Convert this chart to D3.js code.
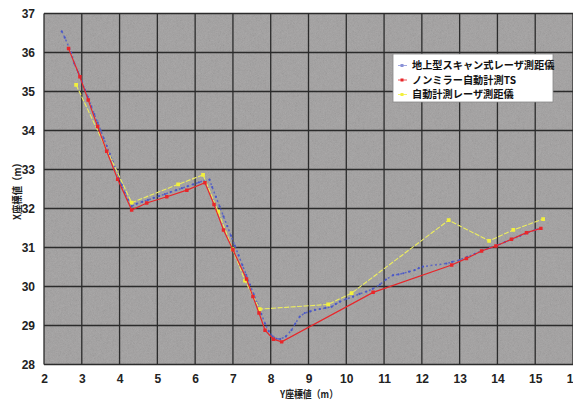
<!DOCTYPE html>
<html>
<head>
<meta charset="utf-8">
<script src="https://cdn.jsdelivr.net/npm/d3@7"></script>
<style>
  body { margin: 0; background: #fff; }
  svg { display: block; }
  .tick text { font-family: "Liberation Sans Narrow", "Liberation Sans", Arial, sans-serif; font-weight: bold; font-size: 12px; fill: #222; }
</style>
</head>
<body>
<svg id="chart" width="573" height="402"></svg>
<script>
// Axis ticks.
var X_TICKS = [2, 3, 4, 5, 6, 7, 8, 9, 10, 11, 12, 13, 14, 15, 16];
var Y_TICKS = [28, 29, 30, 31, 32, 33, 34, 35, 36, 37];

var SERIES_NAMES = ['地上型スキャン式レーザ測距儀', 'ノンミラー自動計測TS', '自動計測レーザ測距儀'];

// Scanner points (dense dots), [Y座標, X座標].
var scanPoints = [
  [2.47, 36.54], [2.55, 36.38], [2.72, 36.00], [2.80, 35.72], [2.90, 35.50],
  [3.00, 35.26], [3.08, 35.05], [3.16, 34.86], [3.25, 34.62], [3.33, 34.42],
  [3.42, 34.20], [3.50, 34.00], [3.58, 33.80], [3.66, 33.60], [3.74, 33.40],
  [3.82, 33.20], [3.90, 33.00], [3.98, 32.80], [4.06, 32.60], [4.14, 32.40],
  [4.22, 32.22], [4.32, 32.06], [4.45, 32.12], [4.60, 32.17], [4.75, 32.22],
  [4.90, 32.27], [5.05, 32.32], [5.20, 32.37], [5.35, 32.42], [5.50, 32.47],
  [5.65, 32.52], [5.80, 32.57], [5.95, 32.62], [6.10, 32.67], [6.25, 32.72],
  [6.38, 32.74], [6.45, 32.55], [6.55, 32.30], [6.65, 32.05], [6.75, 31.80],
  [6.85, 31.55], [6.95, 31.30], [7.05, 31.05], [7.15, 30.80], [7.25, 30.55],
  [7.35, 30.30], [7.45, 30.05], [7.55, 29.80], [7.65, 29.55], [7.75, 29.30],
  [7.85, 29.05], [7.95, 28.85], [8.05, 28.72], [8.15, 28.66], [8.25, 28.65],
  [8.40, 28.72], [8.55, 28.88], [8.65, 29.05], [8.77, 29.23], [8.90, 29.32],
  [9.04, 29.36], [9.17, 29.40], [9.30, 29.42], [9.45, 29.45], [9.61, 29.48],
  [9.72, 29.55], [9.83, 29.61], [10.00, 29.68], [10.18, 29.74], [10.35, 29.81],
  [10.53, 29.87], [10.70, 29.94], [10.89, 30.05], [11.05, 30.18], [11.24, 30.29],
  [11.38, 30.31], [11.51, 30.34], [11.66, 30.38], [11.81, 30.42], [11.92, 30.47],
  [12.03, 30.51], [12.65, 30.59], [12.80, 30.63], [13.00, 30.68], [13.20, 30.76],
  [13.40, 30.84], [13.60, 30.92], [13.80, 30.99], [14.00, 31.06], [14.20, 31.14],
  [14.40, 31.22], [14.60, 31.30], [14.80, 31.38], [15.00, 31.45], [15.15, 31.50]
];

// Non-mirror TS points.
var tsPoints = [
  [2.65, 36.10], [2.95, 35.38], [3.17, 34.78], [3.42, 34.10], [3.66, 33.47],
  [3.95, 32.75], [4.32, 31.96], [4.72, 32.14], [5.25, 32.30], [5.78, 32.47],
  [6.26, 32.66], [6.50, 32.10], [6.75, 31.45], [7.00, 30.94], [7.36, 30.19],
  [7.53, 29.74], [7.69, 29.32], [7.85, 28.88], [8.07, 28.65], [8.29, 28.58],
  [10.71, 29.85], [12.79, 30.55], [13.18, 30.72], [13.58, 30.91], [13.96, 31.04],
  [14.37, 31.21], [14.77, 31.38], [15.15, 31.49]
];

// Automatic laser range finder points.
var laserPoints = [
  [2.85, 35.17], [4.32, 32.15], [5.55, 32.62], [6.21, 32.86], [6.61, 31.92],
  [6.99, 30.96], [7.32, 30.15], [7.71, 29.42], [9.52, 29.54], [10.14, 29.83],
  [12.71, 31.70], [13.78, 31.17], [14.42, 31.45], [15.21, 31.73]
];

var BLUE = '#4a58c8';
var RED = '#e8262a';
var YELLOW = '#eded5e';

var svg = d3.select('#chart');
var margin = {left: 44, right: 0, top: 13.5, bottom: 37.5};
var width = 573 - margin.left - margin.right;
var height = 402 - margin.top - margin.bottom;

var x = d3.scaleLinear().domain([2, 16]).range([margin.left, margin.left + width]);
var y = d3.scaleLinear().domain([28, 37]).range([margin.top + height, margin.top]);

// Grainy gray background like the scanned original.
var defs = svg.append('defs');
var noise = defs.append('filter').attr('id', 'grain').attr('x', 0).attr('y', 0)
  .attr('width', '100%').attr('height', '100%');
noise.append('feTurbulence').attr('type', 'fractalNoise')
  .attr('baseFrequency', 1.6).attr('numOctaves', 1).attr('seed', 3);
noise.append('feColorMatrix').attr('type', 'matrix')
  .attr('values', '0.33 0.33 0.33 0 0  0.33 0.33 0.33 0 0  0.33 0.33 0.33 0 0  0 0 0 0 1');
defs.append('clipPath').attr('id', 'plotclip').append('rect')
  .attr('x', x(2)).attr('y', y(37)).attr('width', width).attr('height', height);

svg.append('rect')
  .attr('x', x(2)).attr('y', y(37))
  .attr('width', width).attr('height', height)
  .attr('fill', '#9e9c9c');
svg.append('rect')
  .attr('x', x(2)).attr('y', y(37))
  .attr('width', width).attr('height', height)
  .attr('filter', 'url(#grain)')
  .attr('opacity', 0.22);

// Grid.
svg.append('g').selectAll('line.v')
  .data(X_TICKS)
  .enter().append('line')
  .attr('x1', function(d){ return x(d); })
  .attr('x2', function(d){ return x(d); })
  .attr('y1', y(28)).attr('y2', y(37))
  .attr('stroke', '#2b2b2b').attr('stroke-width', 1.3);
svg.append('g').selectAll('line.h')
  .data(Y_TICKS)
  .enter().append('line')
  .attr('x1', x(2)).attr('x2', x(16))
  .attr('y1', function(d){ return y(d); })
  .attr('y2', function(d){ return y(d); })
  .attr('stroke', '#2b2b2b').attr('stroke-width', 1.3);

// Axes (labels only).
var xAxis = svg.append('g')
  .attr('transform', 'translate(0,' + (margin.top + height) + ')')
  .call(d3.axisBottom(x).tickValues(X_TICKS).tickSize(0).tickPadding(10).tickFormat(d3.format('d')));
xAxis.select('.domain').remove();
var yAxis = svg.append('g')
  .attr('transform', 'translate(' + margin.left + ',0)')
  .call(d3.axisLeft(y).tickValues(Y_TICKS).tickSize(0).tickPadding(9).tickFormat(d3.format('d')));
yAxis.select('.domain').remove();

svg.append('text')
  .attr('x', 280).attr('y', 398)
  .attr('textLength', 58).attr('lengthAdjust', 'spacingAndGlyphs')
  .attr('font-family', '"Noto Sans CJK JP", sans-serif')
  .attr('font-weight', 'bold').attr('font-size', 10.5).attr('fill', '#222')
  .text('Y座標値（m）');
svg.append('text')
  .attr('transform', 'translate(21,220) rotate(-90)')
  .attr('textLength', 62).attr('lengthAdjust', 'spacingAndGlyphs')
  .attr('font-family', '"Noto Sans CJK JP", sans-serif')
  .attr('font-weight', 'bold').attr('font-size', 10.5).attr('fill', '#222')
  .text('X座標値（m）');

var line = d3.line()
  .x(function(d){ return x(d[0]); })
  .y(function(d){ return y(d[1]); });

var plot = svg.append('g').attr('clip-path', 'url(#plotclip)');

// Scanner: dotted trace.
plot.append('path')
  .datum(scanPoints)
  .attr('d', line)
  .attr('fill', 'none')
  .attr('stroke', BLUE).attr('stroke-width', 1.5)
  .attr('stroke-dasharray', '2,2.5')
  .attr('opacity', 0.8);
plot.selectAll('circle.scan')
  .data(scanPoints)
  .enter().append('circle')
  .attr('cx', function(d){ return x(d[0]); })
  .attr('cy', function(d){ return y(d[1]); })
  .attr('r', 1.1)
  .attr('fill', BLUE);

// Laser range finder.
plot.append('path')
  .datum(laserPoints)
  .attr('d', line)
  .attr('fill', 'none')
  .attr('stroke', YELLOW).attr('stroke-width', 1.1)
  .attr('stroke-dasharray', '5,1.5');
plot.selectAll('path.laser')
  .data(laserPoints)
  .enter().append('path')
  .attr('transform', function(d){ return 'translate(' + x(d[0]) + ',' + y(d[1]) + ')'; })
  .attr('d', d3.symbol(d3.symbolSquare, 14))
  .attr('fill', '#f2f03c');

// Non-mirror TS.
plot.append('path')
  .datum(tsPoints)
  .attr('d', line)
  .attr('fill', 'none')
  .attr('stroke', RED).attr('stroke-width', 1.2);
plot.selectAll('path.ts')
  .data(tsPoints)
  .enter().append('path')
  .attr('transform', function(d){ return 'translate(' + x(d[0]) + ',' + y(d[1]) + ')'; })
  .attr('d', d3.symbol(d3.symbolSquare, 12))
  .attr('fill', RED);

// Legend.
var legend = svg.append('g').attr('transform', 'translate(393,54)');
legend.append('rect')
  .attr('width', 160).attr('height', 48)
  .attr('fill', '#fff').attr('stroke', '#888').attr('stroke-width', 0.8);
var legendColors = ['#8a92d8', RED, '#f2f03c'];
var items = legend.selectAll('g.item')
  .data(SERIES_NAMES)
  .enter().append('g')
  .attr('transform', function(d, i){ return 'translate(0,' + (11.5 + i * 14.5) + ')'; });
items.append('line')
  .attr('x1', 5).attr('x2', 14)
  .attr('stroke', function(d, i){ return legendColors[i]; })
  .attr('stroke-width', 0.8);
items.append('rect')
  .attr('x', 7.5).attr('y', -1.5).attr('width', 3).attr('height', 3)
  .attr('fill', function(d, i){ return legendColors[i]; });
items.append('text')
  .attr('x', 19).attr('dy', '0.35em')
  .attr('font-family', '"Noto Sans CJK JP", sans-serif')
  .attr('font-weight', 'bold').attr('font-size', 10.2).attr('fill', '#111')
  .text(function(d){ return d; });
</script>
</body>
</html>
